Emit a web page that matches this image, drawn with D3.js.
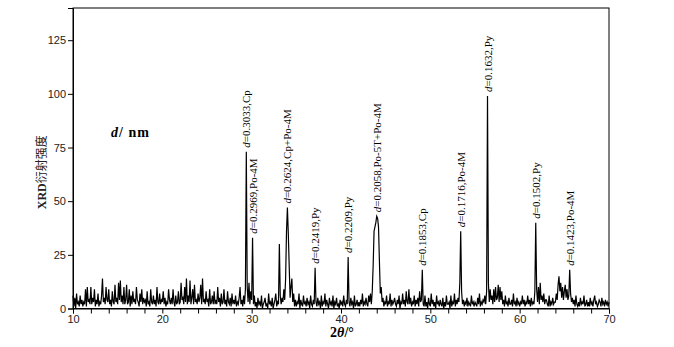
<!DOCTYPE html>
<html>
<head>
<meta charset="utf-8">
<script src="https://cdn.jsdelivr.net/npm/d3@7"></script>
<style>
  html, body { margin: 0; padding: 0; background: #fff; }
  svg { display: block; }
</style>
</head>
<body>
<svg id="xrd_svg" width="674" height="347"></svg>
<script>
// scan grid: 2theta from 10 to 70 in 0.1 deg steps
const thetaStart = 10
const thetaStep = 0.1

// intensities, one row per degree
const intensity = [
  6,1,5,0,7,2,3,1,6,2,   // 10
  4,1,3,2,9,1,10,3,4,2,
  10,2,5,3,9,1,4,2,7,1,
  3,2,6,14,3,5,2,10,4,3,
  9,2,4,1,8,3,2,11,3,5,
  2,12,4,13,3,6,2,10,2,4, // 15
  11,2,3,9,1,6,2,8,3,4,
  2,10,4,3,1,7,3,9,2,5,
  3,4,1,8,2,3,1,9,3,2,
  6,2,4,1,10,3,2,7,2,4,
  3,8,2,5,1,3,2,9,4,2,   // 20
  5,2,9,3,1,6,2,3,8,2,
  3,12,4,5,2,10,3,14,2,6,
  3,13,2,5,9,2,11,3,4,2,
  7,3,5,11,2,14,3,4,2,8,
  3,4,1,9,2,3,6,2,8,2,   // 25
  4,2,10,3,5,1,7,2,3,9,
  2,4,1,8,3,2,5,1,7,2,
  4,2,6,1,3,2,5,10,2,4,
  1,6,2,9,73,10,3,12,2,8,
  4,33,2,6,1,3,0,5,2,3,  // 30
  1,6,0,2,3,5,1,2,0,7,
  2,3,1,5,0,2,4,7,1,3,
  2,30,6,2,5,3,9,4,14,36,
  47,35,20,5,10,14,3,7,1,4,
  1,3,2,7,0,4,2,1,6,2,   // 35
  3,1,5,2,3,0,6,2,1,4,
  2,19,3,1,5,2,3,0,6,1,
  3,2,7,1,4,2,0,5,2,3,
  1,6,0,3,2,5,1,2,0,4,
  2,3,1,6,2,1,4,2,24,3,  // 40
  1,5,2,3,0,6,1,2,4,1,
  3,1,4,2,7,1,3,2,5,2,
  1,6,3,7,2,8,20,36,38,40,
  43,42,38,22,7,10,3,5,1,3,
  2,6,1,3,2,7,1,4,2,3,   // 45
  5,2,1,4,2,6,0,3,2,7,
  2,4,1,8,3,2,9,2,5,1,
  3,2,6,1,4,2,5,1,8,3,
  4,18,2,1,6,1,3,0,5,2,
  1,7,2,4,1,3,0,6,2,3,   // 50
  1,4,2,1,5,0,3,1,6,2,
  2,3,0,6,1,3,2,7,1,4,
  2,5,3,12,36,8,2,4,1,3,
  2,5,1,3,2,1,6,2,3,1,
  3,2,1,5,2,7,1,3,2,4,   // 55
  3,6,2,8,99,12,3,9,4,6,
  2,9,3,10,4,5,11,3,10,4,
  8,2,4,1,6,2,3,1,5,2,
  2,4,1,7,2,3,1,5,2,3,
  1,3,2,6,2,4,1,3,2,6,   // 60
  2,4,1,5,2,3,2,8,40,9,
  3,10,2,12,4,6,3,7,2,4,
  4,2,1,6,1,3,2,5,2,3,
  3,7,4,11,15,8,12,5,10,4,
  8,11,5,9,4,6,18,7,3,5, // 65
  2,4,1,6,2,1,3,1,5,2,
  3,2,6,1,2,4,1,3,1,5,
  2,3,1,4,6,2,3,1,2,4,
  3,1,5,2,3,1,4,2,3,1,
  3                      // 70
]

// labelled reflections
const peakTheta = [29.4, 30.1, 34.0, 37.1, 40.8, 44.0, 49.1, 53.4, 56.4, 61.8, 65.6]
const peakD = ["0.3033", "0.2969", "0.2624", "0.2419", "0.2209", "0.2058", "0.1853", "0.1716", "0.1632", "0.1502", "0.1423"]
const peakPhase = ["Cp", "Po-4M", "Cp+Po-4M", "Py", "Py", "Po-5T+Po-4M", "Cp", "Po-4M", "Py", "Py", "Po-4M"]

const xTicks = [10, 20, 30, 40, 50, 60, 70]
const yTicks = [0, 25, 50, 75, 100, 125]

const svg = d3.select("#xrd_svg")
const margin = { top: 8, right: 65, bottom: 38.5, left: 73 }
const width = 674, height = 347

const x = d3.scaleLinear().domain([10, 70]).range([margin.left, width - margin.right])
const y = d3.scaleLinear().domain([0, 140]).range([height - margin.bottom, margin.top])

const points = intensity.map((v, i) => ({ t: thetaStart + i * thetaStep, v: v }))

// frame
svg.append("rect").attr("x", x(10)).attr("y", y(140)).attr("width", x(70) - x(10)).attr("height", y(0) - y(140))
  .attr("fill", "none").attr("stroke", "#000").attr("stroke-width", 1)

// pattern
const line = d3.line().x((d) => x(d.t)).y((d) => y(d.v))
svg.append("path").datum(points).attr("d", line).attr("fill", "none").attr("stroke", "#000").attr("stroke-width", 1.2)

// axes
const xAxis = svg.append("g").attr("transform", `translate(0,${y(0)})`)
  .call(d3.axisBottom(x).tickValues(xTicks).tickSize(5).tickPadding(2).tickFormat(d3.format("d")))
xAxis.append("g").call(d3.axisBottom(x).tickValues(d3.range(12, 70, 2).filter((d) => d % 10 !== 0)).tickSize(5).tickFormat(""))
  .selectAll(".domain").remove()

const yAxis = svg.append("g").attr("transform", `translate(${x(10)},0)`)
  .call(d3.axisLeft(y).tickValues(yTicks).tickSize(5).tickPadding(2))

svg.selectAll(".domain").attr("stroke", "#000")
svg.selectAll(".tick line").attr("stroke", "#000")
svg.selectAll(".tick text").attr("font-family", "Liberation Sans, Arial, sans-serif").attr("font-size", 11).attr("fill", "#222")

// axis titles
const yt = svg.append("text").attr("transform", `translate(46,${(y(0) + y(140)) / 2 + 14}) rotate(-90)`)
  .attr("text-anchor", "middle").attr("font-size", 12).attr("fill", "#222")
yt.append("tspan").attr("font-family", "Liberation Serif, serif").attr("font-weight", "bold").text("XRD")
yt.append("tspan").attr("font-family", "Noto Sans CJK SC, sans-serif").text("衍射强度")

const xt = svg.append("text").attr("x", 342).attr("y", 337).attr("text-anchor", "middle")
  .attr("font-family", "Liberation Serif, serif").attr("font-size", 14).attr("font-weight", "bold")
xt.append("tspan").text("2")
xt.append("tspan").attr("font-style", "italic").text("θ")
xt.append("tspan").text("/°")

const dn = svg.append("text").attr("x", 111).attr("y", 137)
  .attr("font-family", "Liberation Serif, serif").attr("font-size", 14).attr("font-weight", "bold").attr("letter-spacing", 1)
dn.append("tspan").attr("font-style", "italic").text("d")
dn.append("tspan").text("/ nm")

// peak labels, vertical above each peak
const peakValue = (t) => intensity[Math.round((t - thetaStart) / thetaStep)]
peakTheta.forEach((t, i) => {
  const lab = svg.append("text")
    .attr("transform", `translate(${x(t) + 4},${y(peakValue(t)) - 4}) rotate(-90)`)
    .attr("font-family", "Liberation Serif, serif").attr("font-size", 11).attr("fill", "#000")
  lab.append("tspan").attr("font-style", "italic").text("d")
  lab.append("tspan").text(`=${peakD[i]},${peakPhase[i]}`)
})
</script>
</body>
</html>
